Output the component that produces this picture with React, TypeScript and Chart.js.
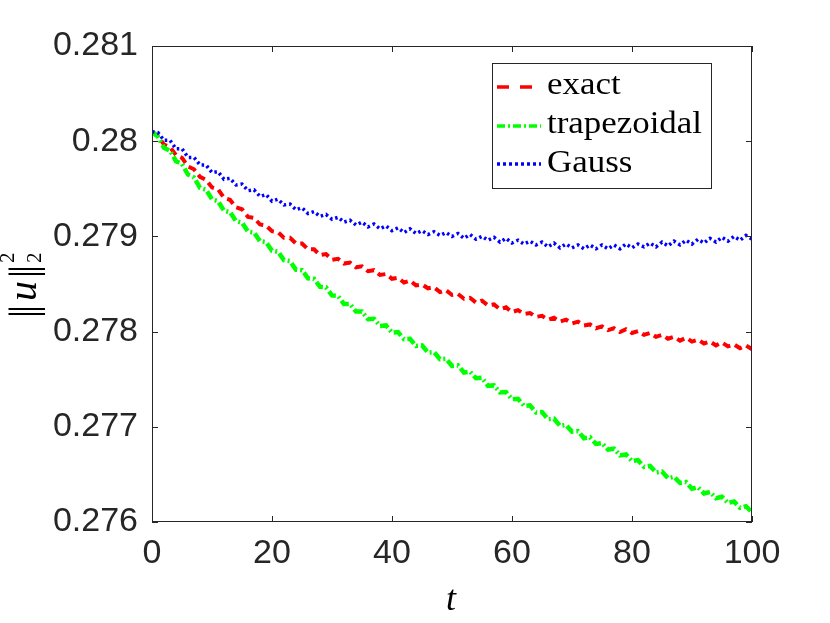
import React, { useEffect, useRef } from 'react';
import { Chart, registerables } from 'chart.js';

Chart.register(...registerables);

// ---------------- data ----------------
const tValues = [
  0, 1, 2, 3, 4, 5, 6, 7, 8, 9, 10, 11, 12, 13, 14, 15, 16, 17, 18, 19, 20,
  21, 22, 23, 24, 25, 26, 27, 28, 29, 30, 31, 32, 33, 34, 35, 36, 37, 38, 39, 40,
  41, 42, 43, 44, 45, 46, 47, 48, 49, 50, 51, 52, 53, 54, 55, 56, 57, 58, 59, 60,
  61, 62, 63, 64, 65, 66, 67, 68, 69, 70, 71, 72, 73, 74, 75, 76, 77, 78, 79, 80,
  81, 82, 83, 84, 85, 86, 87, 88, 89, 90, 91, 92, 93, 94, 95, 96, 97, 98, 99, 100,
];

const exactValues = [
  0.2801, 0.280055, 0.279965, 0.279935, 0.279855, 0.279825, 0.279735, 0.279705, 0.279625, 0.279595,
  0.279515, 0.279495, 0.279405, 0.279385, 0.279305, 0.279285, 0.279205, 0.279195, 0.279125, 0.279115,
  0.279055, 0.279045, 0.278985, 0.278985, 0.278925, 0.278925, 0.278865, 0.278865, 0.278805, 0.278815,
  0.278755, 0.278765, 0.278715, 0.278725, 0.278675, 0.278685, 0.278635, 0.278645, 0.278595, 0.278605,
  0.278555, 0.278565, 0.278515, 0.278535, 0.278485, 0.278495, 0.278455, 0.278465, 0.278415, 0.278435,
  0.278385, 0.278395, 0.278345, 0.278355, 0.278305, 0.278325, 0.278275, 0.278285, 0.278235, 0.278255,
  0.278205, 0.278225, 0.278185, 0.278195, 0.278155, 0.278165, 0.278125, 0.278145, 0.278105, 0.278125,
  0.278085, 0.278105, 0.278065, 0.278075, 0.278035, 0.278055, 0.278015, 0.278035, 0.277995, 0.278025,
  0.277985, 0.278005, 0.277965, 0.277985, 0.277945, 0.277965, 0.277925, 0.277945, 0.277905, 0.277935,
  0.277895, 0.277915, 0.277875, 0.277895, 0.277855, 0.277885, 0.277845, 0.277865, 0.277825, 0.277855,
  0.277815,
];

const trapezoidalValues = [
  0.2801, 0.280045, 0.27993, 0.2799, 0.27979, 0.27976, 0.27965, 0.27962, 0.27951, 0.27949,
  0.27939, 0.27937, 0.27927, 0.279255, 0.27916, 0.279145, 0.27905, 0.27904, 0.27895, 0.27894,
  0.27885, 0.27884, 0.27875, 0.27874, 0.27865, 0.278645, 0.27856, 0.278555, 0.27847, 0.278465,
  0.27838, 0.278375, 0.27829, 0.27829, 0.27821, 0.27821, 0.27813, 0.278135, 0.27806, 0.278065,
  0.27799, 0.277995, 0.27792, 0.277925, 0.27785, 0.277855, 0.27778, 0.277785, 0.27771, 0.277715,
  0.27764, 0.277645, 0.27757, 0.27758, 0.27751, 0.277515, 0.27743, 0.277435, 0.27736, 0.277365,
  0.27729, 0.277295, 0.27722, 0.277225, 0.27715, 0.277155, 0.27708, 0.277085, 0.27701, 0.27702,
  0.27695, 0.276955, 0.27688, 0.27689, 0.27682, 0.27683, 0.27676, 0.27677, 0.2767, 0.27671,
  0.27664, 0.27665, 0.27658, 0.27659, 0.27652, 0.27653, 0.27646, 0.276475, 0.27641, 0.27642,
  0.27635, 0.276365, 0.2763, 0.276315, 0.27625, 0.276265, 0.2762, 0.276215, 0.27615, 0.276165,
  0.2761,
];

const gaussValues = [
  0.2801, 0.28009, 0.28001, 0.28001, 0.27992, 0.27992, 0.27983, 0.27983, 0.27975, 0.27975,
  0.27967, 0.27968, 0.2796, 0.27961, 0.27954, 0.27955, 0.27948, 0.27949, 0.27942, 0.27944,
  0.27937, 0.27939, 0.27933, 0.27934, 0.27928, 0.2793, 0.27924, 0.27926, 0.27921, 0.27923,
  0.27918, 0.2792, 0.27915, 0.27917, 0.27912, 0.27915, 0.2791, 0.27913, 0.27908, 0.27911,
  0.27906, 0.27909, 0.27904, 0.27908, 0.27903, 0.27906, 0.27902, 0.27905, 0.27901, 0.27904,
  0.279, 0.27903, 0.27898, 0.27902, 0.27897, 0.279, 0.27896, 0.27899, 0.27894, 0.27898,
  0.27893, 0.27896, 0.27892, 0.27895, 0.27891, 0.27894, 0.27889, 0.27893, 0.27888, 0.27892,
  0.27888, 0.27891, 0.27887, 0.27891, 0.27887, 0.27891, 0.27887, 0.27891, 0.27887, 0.27892,
  0.27888, 0.27892, 0.27889, 0.27893, 0.27889, 0.27894, 0.2789, 0.27895, 0.27891, 0.27896,
  0.27892, 0.27897, 0.27893, 0.27898, 0.27894, 0.27899, 0.27895, 0.279, 0.27896, 0.27901,
  0.27897,
];

const seriesNames = ['exact', 'trapezoidal', 'Gauss'];
const seriesColors = ['#ff0000', '#00ff00', '#0000ff'];

const xTicks = [0, 20, 40, 60, 80, 100];
const xTickLabels = ['0', '20', '40', '60', '80', '100'];
const yTicks = [0.276, 0.277, 0.278, 0.279, 0.28, 0.281];
const yTickLabels = ['0.276', '0.277', '0.278', '0.279', '0.28', '0.281'];

const xTitle = 't';

// ---------------- styles ----------------
const AXIS_COLOR = '#262626';
const TICK_FONT = "'Liberation Sans', Arial, Helvetica, sans-serif";
const SERIF = "'Liberation Serif', 'DejaVu Serif', serif";
const lineWidths = [4, 4.5, 3.5];
const dashes = [[8, 5], [9, 3, 2, 3], [2.5, 3]];
const legendDashes = [[12, 11], [8, 3, 2, 3], [3, 3]];

const overlayPlugin = {
  id: 'matlabOverlay',
  afterDatasetsDraw(chart: any) {
    const { ctx, chartArea: a, scales } = chart;
    const xs = scales.x;
    const ys = scales.y;
    ctx.save();

    // axes box
    ctx.strokeStyle = AXIS_COLOR;
    ctx.lineWidth = 1;
    ctx.setLineDash([]);
    ctx.strokeRect(a.left + 0.5, a.top + 0.5, a.right - a.left - 1, a.bottom - a.top - 1);

    // inward ticks
    const tl = 6;
    ctx.beginPath();
    xTicks.forEach((v) => {
      const px = Math.round(xs.getPixelForValue(v)) + 0.5;
      ctx.moveTo(px, a.bottom);
      ctx.lineTo(px, a.bottom - tl);
      ctx.moveTo(px, a.top);
      ctx.lineTo(px, a.top + tl);
    });
    yTicks.forEach((v) => {
      const py = Math.round(ys.getPixelForValue(v)) + 0.5;
      ctx.moveTo(a.left, py);
      ctx.lineTo(a.left + tl, py);
      ctx.moveTo(a.right, py);
      ctx.lineTo(a.right - tl, py);
    });
    ctx.stroke();

    // legend
    const lx = 492, ly = 63, lw = 219, lh = 125;
    ctx.fillStyle = '#ffffff';
    ctx.fillRect(lx, ly, lw, lh);
    ctx.strokeStyle = AXIS_COLOR;
    ctx.lineWidth = 1;
    ctx.strokeRect(lx + 0.5, ly + 0.5, lw, lh);

    const rowsY = [87, 126, 164];
    const baselines = [94, 133, 172];
    ctx.font = `31px ${SERIF}`;
    const fit = 155 / ctx.measureText('trapezoidal').width;
    seriesNames.forEach((name, i) => {
      ctx.strokeStyle = seriesColors[i];
      ctx.lineWidth = 3.5;
      ctx.setLineDash(legendDashes[i]);
      ctx.beginPath();
      ctx.moveTo(497, rowsY[i]);
      ctx.lineTo(541, rowsY[i]);
      ctx.stroke();
      ctx.setLineDash([]);
      ctx.save();
      ctx.translate(547, baselines[i]);
      ctx.scale(fit, 1);
      ctx.fillStyle = '#000000';
      ctx.textAlign = 'left';
      ctx.textBaseline = 'alphabetic';
      ctx.fillText(name, 0, 0);
      ctx.restore();
    });

    // x title
    ctx.fillStyle = '#000000';
    ctx.font = `italic 36px ${SERIF}`;
    ctx.textAlign = 'center';
    ctx.textBaseline = 'alphabetic';
    ctx.fillText(xTitle, 451, 610);

    // y title  ||u||_2^2 (rotated)
    ctx.save();
    ctx.translate(36, 283);
    ctx.rotate(-Math.PI / 2);
    ctx.textBaseline = 'alphabetic';
    ctx.textAlign = 'center';
    ctx.fillStyle = '#000000';
    ctx.font = `40px ${SERIF}`;
    ctx.fillText('|', -31, 0);
    ctx.fillText('|', -26, 0);
    ctx.font = `italic 40px ${SERIF}`;
    ctx.fillText('u', -8, 0);
    ctx.font = `40px ${SERIF}`;
    ctx.fillText('|', 9, 0);
    ctx.fillText('|', 14, 0);
    ctx.textAlign = 'left';
    ctx.font = `21px ${SERIF}`;
    ctx.fillText('2', 20, -22);
    ctx.fillText('2', 20, 5);
    ctx.restore();

    ctx.restore();
  },
};

export default function App() {
  const canvasRef = useRef<HTMLCanvasElement | null>(null);

  useEffect(() => {
    if (!canvasRef.current) return;
    const seriesValues = [exactValues, trapezoidalValues, gaussValues];
    const chart = new Chart(canvasRef.current, {
      type: 'line',
      data: {
        datasets: seriesNames.map((name, i) => ({
          label: name,
          data: tValues.map((t, k) => ({ x: t, y: seriesValues[i][k] })),
          borderColor: seriesColors[i],
          backgroundColor: seriesColors[i],
          borderWidth: lineWidths[i],
          borderDash: dashes[i],
          pointRadius: 0,
          tension: 0,
          fill: false,
          order: 2 - i,
        })),
      },
      options: {
        animation: false,
        responsive: false,
        maintainAspectRatio: false,
        events: [],
        layout: { padding: { left: 0, top: 46, right: 78, bottom: 0 } },
        plugins: {
          legend: { display: false },
          tooltip: { enabled: false },
          title: { display: false },
        },
        scales: {
          x: {
            type: 'linear',
            min: 0,
            max: 100,
            afterBuildTicks: (s: any) => {
              s.ticks = xTicks.map((v) => ({ value: v }));
            },
            afterFit: (s: any) => {
              s.height = 101;
            },
            ticks: {
              autoSkip: false,
              maxRotation: 0,
              padding: 15,
              color: AXIS_COLOR,
              font: { family: TICK_FONT, size: 34, lineHeight: 1 },
              callback: (_v: any, i: number) => xTickLabels[i],
            },
            grid: { display: false, drawTicks: false },
            border: { display: false },
          },
          y: {
            type: 'linear',
            min: 0.276,
            max: 0.281,
            afterBuildTicks: (s: any) => {
              s.ticks = yTicks.map((v) => ({ value: v }));
            },
            afterFit: (s: any) => {
              s.width = 152;
            },
            ticks: {
              autoSkip: false,
              padding: 14,
              color: AXIS_COLOR,
              font: { family: TICK_FONT, size: 34, lineHeight: 1 },
              callback: (_v: any, i: number) => yTickLabels[i],
            },
            grid: { display: false, drawTicks: false },
            border: { display: false },
          },
        },
      },
      plugins: [overlayPlugin],
    });
    return () => chart.destroy();
  }, []);

  return (
    <div style={{ position: 'absolute', left: 0, top: 0, width: 830, height: 623, background: '#ffffff' }}>
      <canvas ref={canvasRef} width={830} height={623} style={{ display: 'block', width: 830, height: 623 }} />
    </div>
  );
}
